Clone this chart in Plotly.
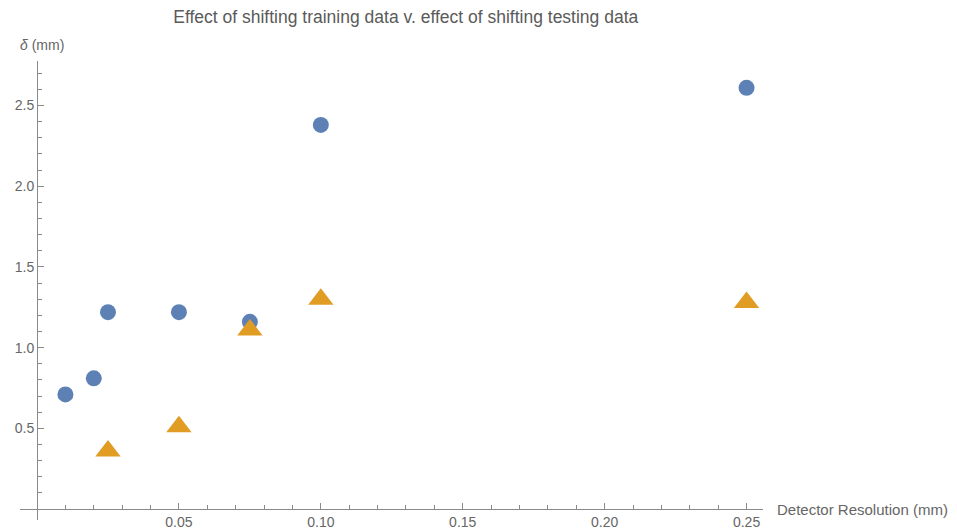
import plotly.graph_objects as go

# Data
resolution_circles = [0.01, 0.02, 0.025, 0.05, 0.075, 0.10, 0.25]
delta_circles = [0.71, 0.81, 1.22, 1.22, 1.16, 2.38, 2.61]

resolution_triangles = [0.025, 0.05, 0.075, 0.10, 0.25]
delta_triangles = [0.36, 0.51, 1.11, 1.30, 1.28]

x_tickvals = [0.05, 0.10, 0.15, 0.20, 0.25]
x_ticktext = ["0.05", "0.10", "0.15", "0.20", "0.25"]
y_tickvals = [0.5, 1.0, 1.5, 2.0, 2.5]
y_ticktext = ["0.5", "1.0", "1.5", "2.0", "2.5"]

title_text = "Effect of shifting training data v. effect of shifting testing data"
x_label = "Detector Resolution (mm)"
y_label = "<i>δ</i> (mm)"

FONT = "Liberation Sans, Arial, Helvetica, sans-serif"
AXIS_COLOR = "#8a8a8a"
TEXT_COLOR = "#666666"

x_range = [-0.006, 0.2558]
y_range = [-0.068, 2.776]

fig = go.Figure()
fig.add_trace(go.Scatter(
    x=resolution_circles, y=delta_circles, mode="markers",
    marker=dict(symbol="circle", size=16, color="#5E81B5", line=dict(width=0)),
    showlegend=False,
))
fig.add_trace(go.Scatter(
    x=resolution_triangles, y=delta_triangles, mode="markers",
    marker=dict(symbol="triangle-up", size=22, color="#E19C24", line=dict(width=0)),
    showlegend=False,
))

x_axis_pos = (0 - y_range[0]) / (y_range[1] - y_range[0])
y_axis_pos = (0 - x_range[0]) / (x_range[1] - x_range[0])

fig.update_layout(
    width=957, height=531,
    margin=dict(l=20, r=194, t=61, b=11, autoexpand=False),
    paper_bgcolor="white", plot_bgcolor="white",
    font=dict(family=FONT, color=TEXT_COLOR, size=14),
    title=dict(text=title_text, x=0.424, xanchor="center", y=0.968, yanchor="middle",
               font=dict(family=FONT, size=17.5, color="#5a5a5a")),
    xaxis=dict(
        range=x_range, showgrid=False, zeroline=False, automargin=False,
        anchor="free", position=x_axis_pos,
        showline=True, linecolor=AXIS_COLOR, linewidth=1,
        tickmode="array", tickvals=x_tickvals, ticktext=x_ticktext,
        ticks="inside", ticklen=6, tickcolor=AXIS_COLOR, tickwidth=1,
        tickfont=dict(size=14, color=TEXT_COLOR),
        minor=dict(tickmode="linear", tick0=0, dtick=0.01, ticks="inside",
                   ticklen=4, tickcolor=AXIS_COLOR, tickwidth=1, showgrid=False),
    ),
    yaxis=dict(
        range=y_range, showgrid=False, zeroline=False, automargin=False,
        anchor="free", position=y_axis_pos,
        showline=True, linecolor=AXIS_COLOR, linewidth=1,
        tickmode="array", tickvals=y_tickvals, ticktext=y_ticktext,
        ticks="inside", ticklen=6, tickcolor=AXIS_COLOR, tickwidth=1,
        tickfont=dict(size=14, color=TEXT_COLOR),
        minor=dict(tickmode="linear", tick0=0, dtick=0.1, ticks="inside",
                   ticklen=4, tickcolor=AXIS_COLOR, tickwidth=1, showgrid=False),
    ),
    annotations=[
        dict(text=y_label, xref="paper", yref="paper", x=0.030, y=1.035,
             xanchor="center", yanchor="middle", showarrow=False,
             font=dict(family=FONT, size=14, color=TEXT_COLOR)),
        dict(text=x_label, xref="paper", yref="y", x=1.016, y=0,
             xanchor="left", yanchor="middle", showarrow=False,
             font=dict(family=FONT, size=15, color=TEXT_COLOR)),
    ],
)

fig.write_html("out.html")
